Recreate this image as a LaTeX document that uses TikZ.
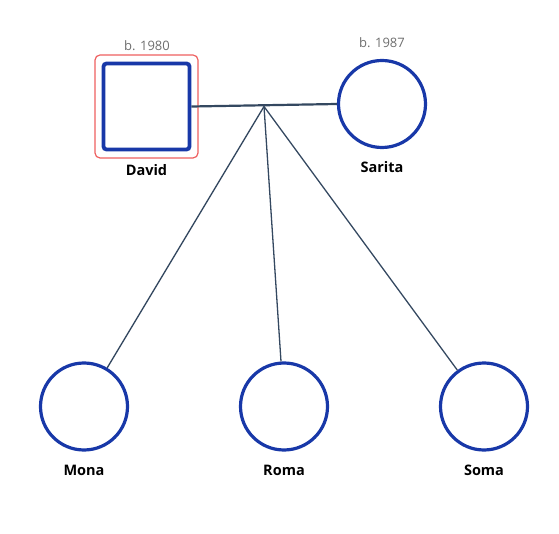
\documentclass[tikz,border=0pt]{standalone}
\usepackage{fontspec}
\setmainfont{Open Sans}
\definecolor{pblue}{RGB}{24,56,168}
\definecolor{pline}{RGB}{52,72,96}
\definecolor{pred}{RGB}{238,96,96}
\definecolor{pgray}{RGB}{110,110,110}
\begin{document}
\begin{tikzpicture}[x=1pt,y=-1pt,
  female/.style={circle,draw=pblue,line width=3.2pt,minimum size=87pt,inner sep=0pt},
  male/.style={rectangle,rounded corners=3pt,draw=pblue,line width=3.8pt,minimum size=86pt,inner sep=0pt},
  sel/.style={rectangle,rounded corners=5pt,draw=pred,line width=1.2pt,minimum size=103pt,inner sep=0pt},
  pname/.style={font=\fontsize{14.5}{18}\selectfont\bfseries,text=black},
  born/.style={font=\fontsize{13}{16}\selectfont,text=pgray},
  couple/.style={draw=pline,line width=2.2pt},
  child/.style={draw=pline,line width=1.3pt}]
\useasboundingbox (0,0) rectangle (559,534);
\node[sel] (dsel) at (146.5,106.5) {};
\node[male] (david) at (146.5,106.5) {};
\node[female] (sarita) at (382,104) {};
\node[female] (mona) at (84,406.5) {};
\node[female] (roma) at (284,406.5) {};
\node[female] (soma) at (484,406.5) {};
\coordinate (j) at (264,106.5);
\draw[couple] (david.east) -- (sarita.west);
\draw[child] (j) -- (mona);
\draw[child] (j) -- (roma);
\draw[child] (j) -- (soma);
\node[pname] (ldavid) at (146.5,170) {David};
\node[pname] (lsarita) at (382,167) {Sarita};
\node[pname] (lmona) at (84,470) {Mona};
\node[pname] (lroma) at (284,470) {Roma};
\node[pname] (lsoma) at (484,470) {Soma};
\node[born] (bdavid) at (147,46) {b. 1980};
\node[born] (bsarita) at (382,43) {b. 1987};
\end{tikzpicture}
\end{document}
